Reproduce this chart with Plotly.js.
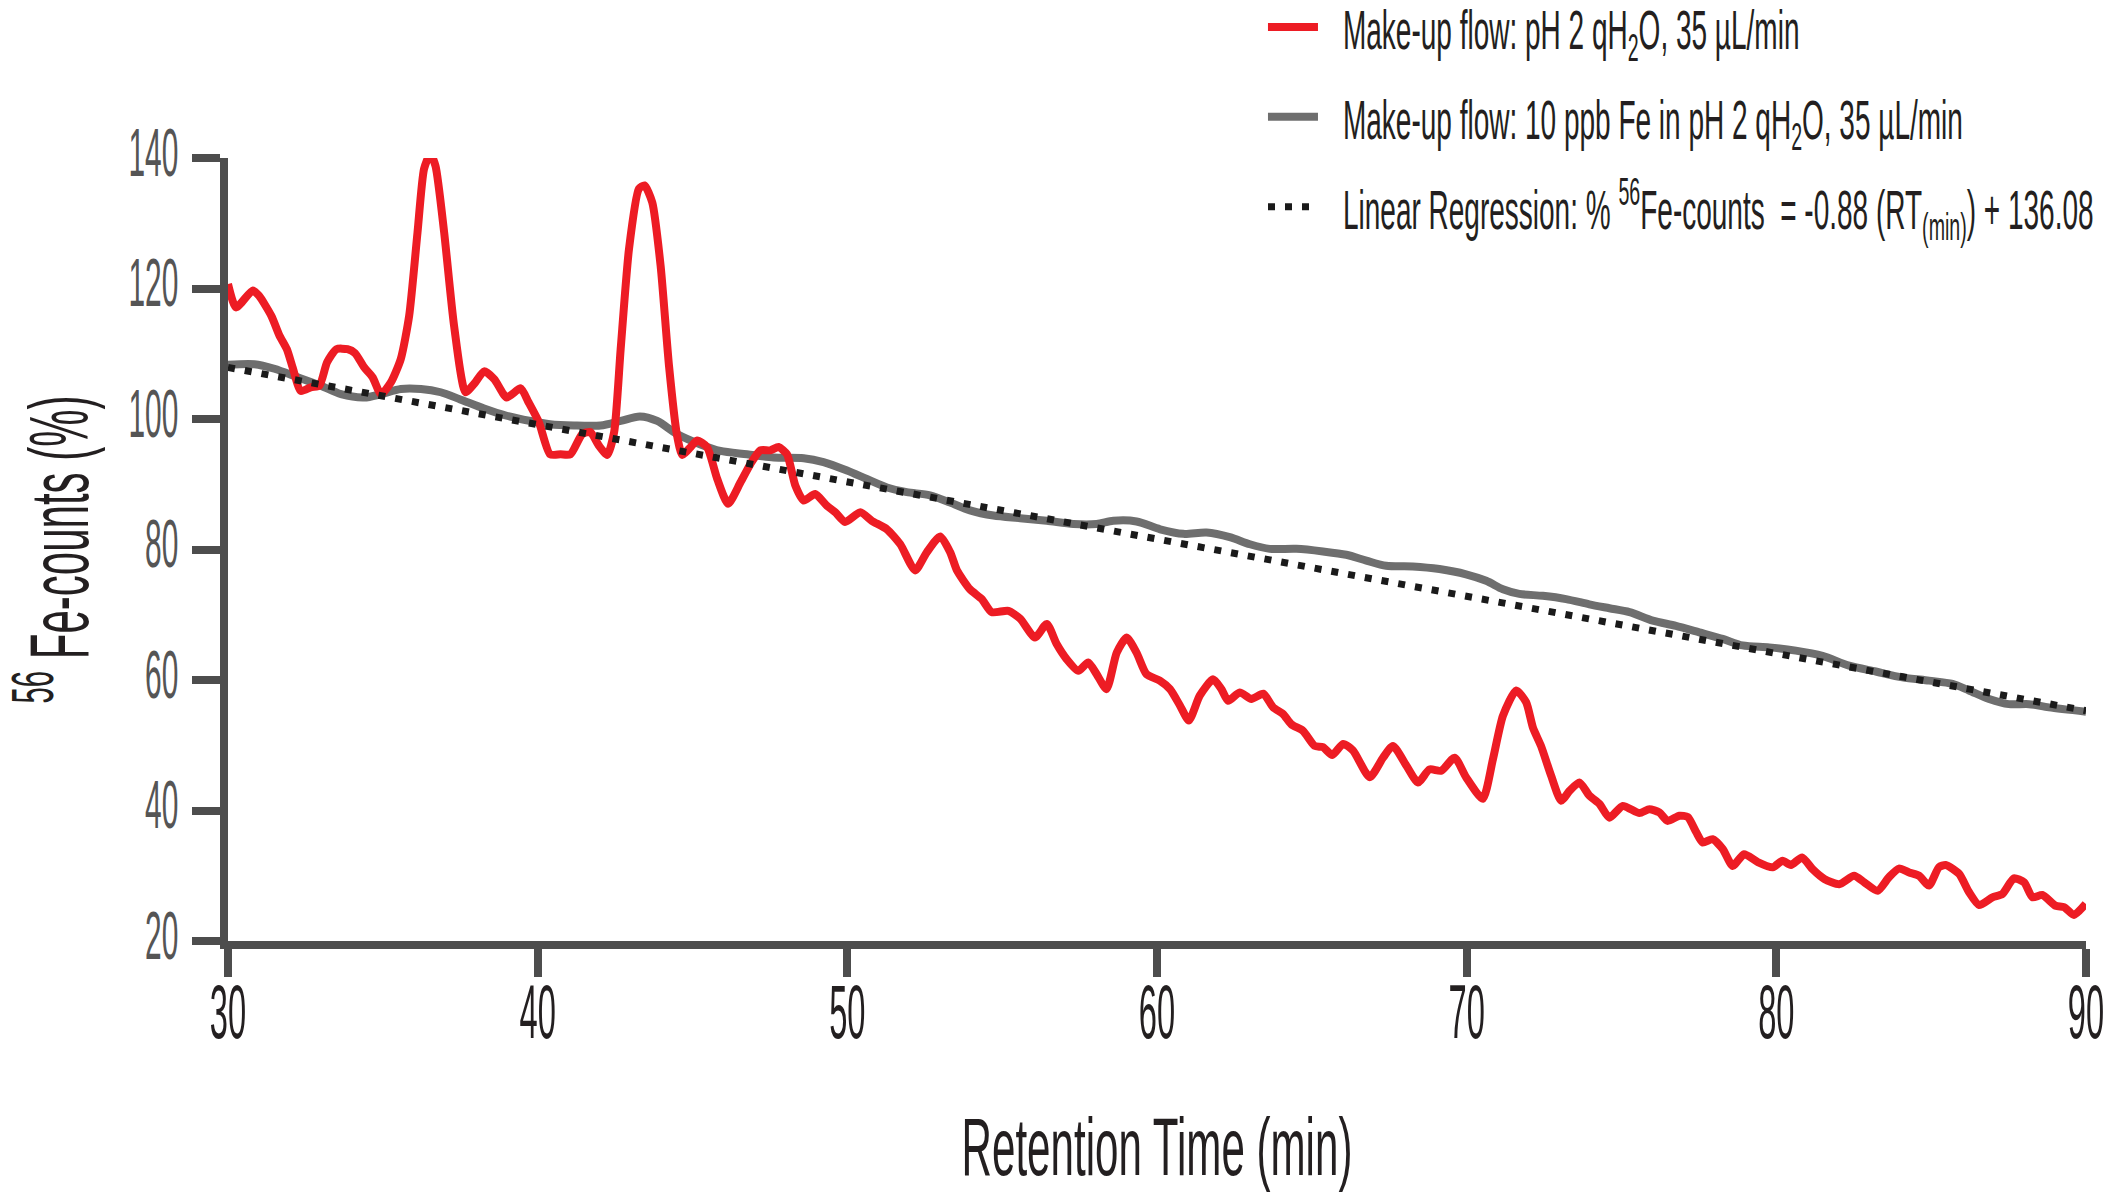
<!DOCTYPE html>
<html lang="en">
<head>
    <meta charset="UTF-8">
    <title>Fe counts vs retention time</title>
    <script src="https://cdn.plot.ly/plotly-3.0.1.min.js"></script>
    <style>
        body { margin: 0; background: #fff; }
    </style>
</head>

<body>

<div id="plot"></div>

<script>

    // make-up flow pH 2 qH2O (red)
    const red_rt = [30.0, 30.26, 30.8, 31.0, 31.4, 31.66, 31.9, 32.1, 32.35, 32.7, 32.95, 33.2, 33.5, 33.86, 34.1, 34.4, 34.67, 34.94,
        35.26, 35.58, 35.85, 36.12, 36.33, 36.53, 36.7, 36.98, 37.3, 37.67, 37.95, 38.27, 38.6, 39.0, 39.45, 39.7, 40.04, 40.4,
        40.74, 41.06, 41.44, 41.7, 41.98, 42.25, 42.47, 42.68, 42.95, 43.27, 43.45, 43.7, 43.97, 44.24, 44.5, 44.67, 44.94, 45.15,
        45.47, 45.8, 46.15, 46.55, 46.87, 47.19, 47.51, 47.78, 48.05, 48.32, 48.59, 48.96, 49.34, 49.61, 49.93, 50.42, 50.79, 51.28,
        51.71, 52.19, 52.57, 53.0, 53.32, 53.54, 53.96, 54.34, 54.66, 55.2, 55.58, 56.06, 56.44, 56.76, 57.08, 57.46, 57.78, 58.05,
        58.37, 58.7, 59.02, 59.34, 59.66, 60.09, 60.42, 60.74, 61.03, 61.38, 61.81, 62.08, 62.3, 62.67, 63.05, 63.43, 63.75, 64.07,
        64.34, 64.72, 65.09, 65.36, 65.66, 66.01, 66.33, 66.87, 67.3, 67.62, 68.05, 68.43, 68.8, 69.18, 69.61, 69.98, 70.52, 70.85,
        71.17, 71.6, 71.92, 72.14, 72.4, 72.73, 73.05, 73.32, 73.64, 73.96, 74.29, 74.61, 75.04, 75.58, 75.9, 76.22, 76.49, 76.87,
        77.14, 77.41, 77.62, 77.94, 78.27, 78.59, 78.96, 79.4, 79.88, 80.2, 80.47, 80.83, 81.17, 81.55, 82.03, 82.51, 82.84, 83.27,
        83.64, 83.96, 84.29, 84.61, 84.93, 85.25, 85.47, 85.9, 86.22, 86.55, 86.98, 87.3, 87.67, 88.0, 88.27, 88.59, 89.02, 89.29,
        89.61, 89.99]
    const red_pct = [120.7, 117.1, 119.7, 118.9, 115.8, 112.8, 110.7, 107.7, 104.3, 104.9, 105.1, 108.7, 110.7, 110.7, 110.1, 107.9, 106.4, 103.8,
        105.6, 109.2, 115.8, 128.6, 138.3, 140.6, 138.8, 128.6, 114.3, 104.1, 105.4, 107.3, 106.1, 103.3, 104.7, 102.6, 99.5, 94.6,
        94.6, 94.6, 97.7, 98.0, 95.9, 94.5, 98.0, 110.7, 126.1, 135.3, 135.8, 133.2, 123.5, 108.2, 97.5, 94.5, 95.7, 96.7,
        95.7, 90.8, 87.0, 90.3, 93.1, 95.2, 95.2, 95.7, 94.6, 89.8, 87.5, 88.5, 86.7, 85.7, 84.2, 85.7, 84.4, 83.1,
        80.8, 76.8, 79.6, 82.0, 79.6, 76.8, 73.9, 72.4, 70.4, 70.6, 69.4, 66.5, 68.6, 65.5, 63.2, 61.4, 62.7, 60.9,
        58.6, 64.2, 66.5, 64.2, 60.9, 59.9, 58.6, 56.1, 53.8, 57.6, 60.1, 58.6, 56.8, 58.1, 57.1, 57.9, 55.8, 54.8,
        53.2, 52.2, 49.9, 49.7, 48.5, 50.2, 49.2, 45.1, 48.1, 49.9, 46.9, 44.3, 46.3, 46.1, 48.1, 45.1, 41.8, 47.9,
        54.5, 58.4, 56.6, 52.7, 49.9, 45.3, 41.5, 43.0, 44.3, 42.3, 41.0, 38.9, 40.7, 39.6, 40.2, 39.7, 38.4, 39.2,
        39.0, 36.7, 35.1, 35.6, 34.1, 31.5, 33.3, 32.1, 31.3, 32.3, 31.65, 32.8, 31.0, 29.5, 28.7, 30.0, 29.0, 27.7,
        29.8, 31.1, 30.5, 30.0, 28.5, 31.3, 31.65, 30.3, 27.5, 25.5, 26.7, 27.2, 29.6, 29.0, 26.7, 27.05, 25.4, 25.2,
        24.0, 25.7]

    // make-up flow 10 ppb Fe (grey)
    const grey_rt = [30.0, 30.85, 31.5, 32.25, 33.0, 33.65, 34.4, 34.94, 35.58, 36.23, 36.87, 37.5, 38.27, 39.0, 39.77, 40.4, 41.17, 42.03,
        42.68, 43.3, 43.86, 44.5, 45.26, 45.9, 46.76, 47.62, 48.59, 49.23, 49.99, 50.63, 51.28, 51.92, 52.67, 53.32, 53.96, 54.72,
        55.58, 56.44, 57.3, 58.05, 58.59, 59.34, 60.1, 60.85, 61.6, 62.35, 63.0, 63.64, 64.5, 65.36, 66.11, 66.76, 67.4, 68.26,
        69.12, 69.98, 70.63, 71.17, 71.7, 72.46, 73.21, 73.96, 74.61, 75.26, 76.01, 76.76, 77.51, 78.27, 78.91, 79.77, 80.63, 81.49,
        82.35, 83.21, 84.07, 84.93, 85.69, 86.22, 86.87, 87.51, 88.16, 88.8, 90.0]
    const grey_pct = [108.3, 108.4, 107.7, 106.4, 105.1, 103.8, 103.3, 103.8, 104.6, 104.6, 104.1, 103.0, 101.6, 100.5, 99.7, 99.2, 99.0, 99.0,
        99.7, 100.4, 99.7, 97.7, 96.1, 95.1, 94.6, 94.1, 94.0, 93.4, 92.1, 90.8, 89.5, 88.8, 88.3, 87.2, 86.0, 85.2,
        84.8, 84.4, 83.9, 83.9, 84.4, 84.3, 83.1, 82.4, 82.6, 81.9, 80.8, 80.1, 80.1, 79.7, 79.2, 78.3, 77.5, 77.4,
        77.0, 76.2, 75.2, 73.9, 73.2, 72.9, 72.4, 71.6, 71.0, 70.4, 69.1, 68.3, 67.3, 66.3, 65.3, 65.0, 64.5, 63.7,
        62.2, 61.3, 60.4, 59.9, 59.4, 58.4, 57.1, 56.3, 56.3, 55.8, 55.15]

    // regression line, ends
    const reg_rt = [30, 90]
    const reg_pct = [107.9, 55.3]

    const x_ticks = [30, 40, 50, 60, 70, 80, 90]
    const y_ticks = [20, 40, 60, 80, 100, 120, 140]

    const names = [
        'Make-up flow: pH 2 qH<sub>2</sub>O, 35 µL/min',
        'Make-up flow: 10 ppb Fe in pH 2 qH<sub>2</sub>O, 35 µL/min',
        'Linear Regression: % <sup>56</sup>Fe-counts  = -0.88 (RT<sub>(min)</sub>) + 136.08'
    ]

    const FONT = 'Liberation Sans, Arial, sans-serif'
    const AXIS = '#4d4d4d'

    const grey = {
        x: grey_rt, y: grey_pct, name: names[1], type: 'scatter', mode: 'lines',
        line: {color: '#6e6e6e', width: 8, shape: 'spline', smoothing: 0.8},
        legendgroup: 'g', legendrank: 2
    }
    const red = {
        x: red_rt, y: red_pct, name: names[0], type: 'scatter', mode: 'lines',
        line: {color: '#ed1c24', width: 8, shape: 'spline', smoothing: 0.6},
        legendgroup: 'r', legendrank: 1
    }
    const reg = {
        x: reg_rt, y: reg_pct, name: names[2], type: 'scatter', mode: 'lines',
        line: {color: '#1a1a1a', width: 7, dash: '7px,10px'},
        legendgroup: 'l', legendrank: 3
    }

    const layout = {
        width: 2112,
        height: 1192,
        margin: {l: 228, r: 26, t: 158, b: 251, autoexpand: false},
        paper_bgcolor: 'white',
        plot_bgcolor: 'white',
        showlegend: true,
        legend: {
            xref: 'container', yref: 'paper',
            x: 0.598, xanchor: 'left', y: 1.222, yanchor: 'top',
            font: {family: FONT, size: 56, color: '#231f20'},
            itemwidth: 50, traceorder: 'grouped', tracegroupgap: 14,
            bgcolor: 'rgba(0,0,0,0)'
        },
        xaxis: {
            range: [30, 90], tickvals: x_ticks, ticktext: x_ticks.map(String),
            showgrid: false, zeroline: false,
            showline: true, linecolor: AXIS, linewidth: 8,
            ticks: 'outside', ticklen: 28, tickwidth: 8, tickcolor: AXIS,
            ticklabeloverflow: 'allow',
            tickfont: {family: FONT, size: 76, color: '#231f20'},
            title: {text: 'Retention Time (min)', font: {family: FONT, size: 81, color: '#231f20'}, standoff: 40}
        },
        yaxis: {
            range: [20, 140], tickvals: y_ticks, ticktext: y_ticks.map(String),
            showgrid: false, zeroline: false,
            showline: true, linecolor: AXIS, linewidth: 8,
            ticks: 'outside', ticklen: 28, tickwidth: 8, tickcolor: AXIS,
            ticklabeloverflow: 'allow',
            tickfont: {family: FONT, size: 68, color: '#555555'},
            title: {text: '<sup>56</sup> Fe-counts (%)', font: {family: FONT, size: 84, color: '#231f20'}, standoff: 50}
        }
    }

    // the original lettering is very condensed: squeeze the svg text sideways around its anchor,
    // dx/dy nudge it afterwards
    function squeeze(sel, s, dx, dy) {
        dx = dx || 0
        dy = dy || 0
        document.querySelectorAll(sel).forEach(t => {
            const x = parseFloat(t.getAttribute('x')) || 0
            const tr = t.getAttribute('transform') || ''
            t.setAttribute('transform', tr + ' translate(' + (x + dx) + ',' + dy + ') scale(' + s + ',1) translate(' + (-x) + ',0)')
        })
    }

    Plotly.newPlot('plot', [grey, red, reg], layout, {displayModeBar: false, staticPlot: true}).then(() => {
        squeeze('#plot .xtick text', 0.43, 0, -30)
        squeeze('#plot .ytick text', 0.44, 0, -6)
        squeeze('#plot .xtitle', 0.52)
        squeeze('#plot .ytitle', 0.5)
        squeeze('#plot .legendtext', 0.5, 20, 0)
    })

</script>
</body>
</html>
